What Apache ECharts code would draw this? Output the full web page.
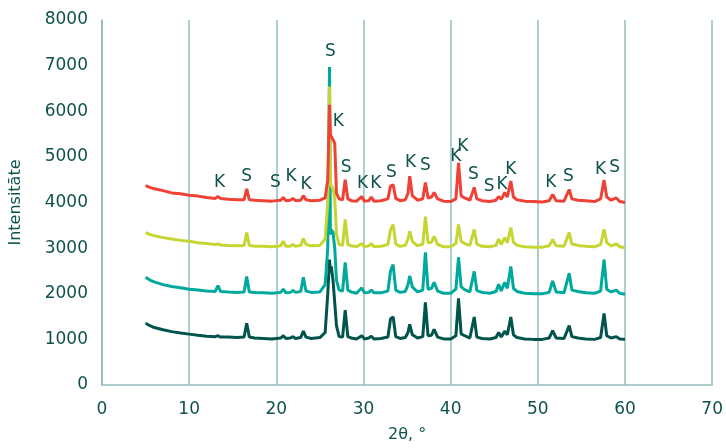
<!DOCTYPE html>
<html><head><meta charset="utf-8">
<script src="https://cdn.jsdelivr.net/npm/echarts@6/dist/echarts.min.js"></script>
<style>html,body{margin:0;padding:0;background:#fff}#c{width:726px;height:448px}</style>
</head><body><div id="c"></div>
<script>
// 2θ angles (degrees)
const angles = [
  5.0, 5.5, 6.0, 7.0, 8.0, 9.0, 10.0, 11.0, 12.0, 13.0,
  13.3, 13.6, 14.5, 15.5, 16.3, 16.6, 16.9, 17.5, 18.5, 19.5,
  20.5, 20.8, 21.1, 21.6, 21.9, 22.2, 22.8, 23.1, 23.4, 24.0,
  25.0, 25.6, 25.9, 26.1, 26.2, 26.3, 26.5, 26.7, 26.9, 27.2,
  27.6, 27.9, 28.2, 28.6, 29.2, 29.8, 30.1, 30.6, 30.9, 31.2,
  32.0, 32.8, 33.1, 33.4, 33.7, 34.2, 34.8, 35.1, 35.3, 35.6,
  36.2, 36.8, 37.1, 37.4, 37.8, 38.1, 38.5, 39.2, 40.0, 40.6,
  40.9, 41.2, 41.6, 42.2, 42.7, 43.0, 43.6, 44.5, 45.2, 45.5,
  45.8, 46.2, 46.5, 46.9, 47.2, 47.6, 48.5, 49.5, 50.5, 51.3,
  51.7, 52.1, 53.0, 53.6, 53.9, 54.6, 55.5, 56.5, 57.2, 57.6,
  57.9, 58.4, 59.0, 59.4, 60.0
];
const redSeries = [
  4370,4330,4300,4260,4210,4190,4160,4140,4110,4090,
  4130,4090,4070,4060,4060,4300,4060,4050,4040,4030,
  4050,4110,4040,4050,4090,4040,4050,4150,4060,4040,
  4050,4100,4500,6140,5500,5450,5420,5300,4200,4080,
  4060,4500,4080,4040,4030,4130,4030,4040,4120,4030,
  4040,4080,4360,4390,4090,4040,4060,4200,4575,4150,
  4050,4080,4440,4100,4120,4220,4080,4030,4020,4080,
  4870,4150,4100,4050,4330,4080,4040,4020,4050,4130,
  4070,4220,4120,4470,4120,4060,4030,4020,4010,4040,
  4175,4040,4030,4285,4080,4050,4040,4020,4080,4490,
  4120,4050,4100,4020,4000
];
const yellowSeries = [
  3340,3300,3270,3230,3200,3170,3150,3120,3100,3080,
  3090,3070,3060,3050,3060,3340,3060,3040,3040,3030,
  3050,3150,3040,3040,3080,3040,3060,3210,3080,3050,
  3060,3200,4000,6540,4400,4430,4300,4100,3300,3080,
  3060,3630,3080,3050,3030,3100,3030,3050,3100,3030,
  3040,3080,3400,3520,3090,3040,3060,3200,3370,3150,
  3050,3090,3690,3120,3130,3260,3080,3030,3030,3100,
  3520,3150,3100,3060,3410,3090,3040,3030,3060,3200,
  3080,3230,3120,3450,3130,3060,3030,3020,3020,3050,
  3190,3050,3040,3340,3090,3060,3040,3030,3080,3410,
  3120,3050,3090,3030,3010
];
const tealSeries = [
  2360,2300,2260,2200,2160,2130,2100,2080,2060,2050,
  2180,2050,2040,2030,2040,2380,2040,2030,2020,2010,
  2030,2100,2020,2030,2070,2030,2050,2360,2060,2030,
  2040,2200,3000,6970,3300,3400,3350,3000,2300,2080,
  2060,2690,2080,2040,2010,2130,2020,2030,2080,2020,
  2020,2060,2500,2640,2080,2030,2050,2200,2390,2150,
  2040,2080,2910,2100,2120,2250,2060,2010,2010,2100,
  2800,2150,2090,2040,2490,2070,2030,2010,2050,2210,
  2060,2250,2120,2600,2120,2050,2010,2000,2000,2030,
  2280,2040,2020,2450,2080,2050,2020,2010,2060,2750,
  2100,2040,2080,2010,1990
];
const darkSeries = [
  1355,1300,1260,1210,1170,1140,1115,1090,1070,1060,
  1080,1050,1050,1040,1050,1355,1050,1030,1020,1010,
  1030,1080,1020,1030,1060,1020,1040,1180,1050,1020,
  1040,1150,2000,2750,2500,2600,2300,1800,1300,1060,
  1050,1640,1060,1030,1010,1080,1010,1030,1070,1010,
  1020,1050,1450,1490,1060,1020,1040,1150,1330,1100,
  1030,1060,1810,1080,1090,1220,1050,1010,1010,1080,
  1900,1120,1080,1030,1490,1050,1020,1010,1040,1150,
  1050,1180,1100,1490,1100,1040,1010,1000,1000,1030,
  1190,1030,1020,1300,1060,1030,1010,1000,1040,1570,
  1080,1030,1060,1010,1000
];
// Phase labels
const labelTexts = ['K','S','S','K','K','S','K','S','K','K','S','K','S','K','K','S','S','K','K','K','S','K','S'];
const labelX = [13.5,16.6,19.9,21.7,23.4,26.2,27.1,28.0,29.9,31.4,33.2,35.4,37.1,40.6,41.4,42.6,44.4,45.9,46.9,51.5,53.5,57.2,58.8];
const labelY = [4437,4568,4437,4568,4393,7300,5770,4765,4415,4415,4656,4874,4809,5005,5224,4612,4350,4393,4721,4437,4568,4721,4765];
const xTicks = [0,10,20,30,40,50,60,70];
const yTicks = [0,1000,2000,3000,4000,5000,6000,7000,8000];

const textColor = '#0f524c';
const gridColor = '#93bcbc';
const font = 'DejaVu Sans';

function zip(vals){ return angles.map((a,i)=>[a, vals[i]]); }
function line(vals, color){
  return {type:'line', data: zip(vals), symbol:'none', lineStyle:{color, width:3}, itemStyle:{color}, animation:false};
}

const chart = echarts.init(document.getElementById('c'), null, {renderer:'canvas'});
chart.setOption({
  animation:false,
  grid:{left:102, right:2, top:20, bottom:62, containLabel:false},
  xAxis:{
    type:'value', min:xTicks[0], max:xTicks[xTicks.length-1], interval:10,
    name:'2θ, °', nameLocation:'middle', nameGap:42,
    nameTextStyle:{color:textColor, fontSize:16, fontFamily:font},
    axisLine:{show:true, lineStyle:{color:gridColor, width:1.5}},
    axisTick:{show:false},
    axisLabel:{color:textColor, fontSize:17, fontFamily:font, margin:16, formatter:v=>String(v)},
    splitLine:{show:true, lineStyle:{color:gridColor, width:1.5}}
  },
  yAxis:{
    type:'value', min:yTicks[0], max:yTicks[yTicks.length-1], interval:1000,
    name:'Intensitāte', nameLocation:'middle', nameGap:78, nameRotate:90,
    nameTextStyle:{color:textColor, fontSize:16, fontFamily:font},
    axisLine:{show:true, lineStyle:{color:gridColor, width:1.5}},
    axisTick:{show:false},
    axisLabel:{color:textColor, fontSize:17, fontFamily:font, margin:14, formatter:v=>String(v)},
    splitLine:{show:false}
  },
  series:[
    line(darkSeries, '#00544c'),
    line(tealSeries, '#00a99d'),
    line(yellowSeries, '#c5d633'),
    line(redSeries, '#ef4136'),
    {
      type:'scatter', symbolSize:0, z:10, itemStyle:{color:textColor, opacity:1},
      data: labelTexts.map((t,i)=>({name:t, value:[labelX[i], labelY[i]]})),
      label:{show:true, position:'inside', formatter:p=>p.name, color:textColor, fontSize:17, fontFamily:font,
             opacity:1, textBorderWidth:0},
      animation:false
    }
  ]
});
</script></body></html>
